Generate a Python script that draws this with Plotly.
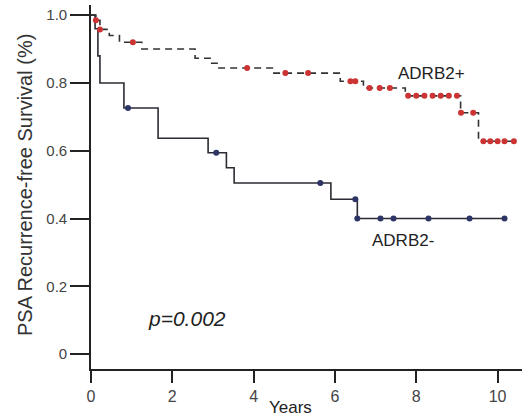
import plotly.graph_objects as go

# ---- data ----
# ADRB2+ step curve
pos_t = [0, 0.12, 0.22, 0.45, 0.7, 1.25, 2.56, 2.93, 3.1, 4.46, 6.13, 6.7, 7.73, 9.09, 9.53, 10.45]
pos_s = [1.0, 0.985, 0.958, 0.94, 0.92, 0.90, 0.873, 0.858, 0.844, 0.829, 0.805, 0.785, 0.762, 0.712, 0.628, 0.628]
# ADRB2+ censored marks
pos_ct = [0.12, 0.22, 1.03, 3.84, 4.78, 5.34, 6.38, 6.5, 6.85, 7.1, 7.35,
          7.8, 8.0, 8.2, 8.4, 8.6, 8.8, 9.0, 9.1, 9.4, 9.65, 9.82, 10.0, 10.17, 10.4]

# ADRB2- step curve
neg_t = [0, 0.1, 0.17, 0.22, 0.81, 1.65, 2.88, 3.33, 3.52, 5.9, 6.55, 10.17]
neg_s = [1.0, 0.96, 0.88, 0.80, 0.726, 0.637, 0.594, 0.55, 0.505, 0.457, 0.40, 0.40]
# ADRB2- censored marks
neg_ct = [0.91, 3.08, 5.64, 6.5, 6.55, 7.12, 7.44, 8.3, 9.31, 10.17]

y_ticks = [0, 0.2, 0.4, 0.6, 0.8, 1.0]
y_ticktext = ["0", "0.2", "0.4", "0.6", "0.8", "1.0"]
x_ticks = [0, 2, 4, 6, 8, 10]


def step_value(ts, ss, t):
    v = ss[0]
    for ti, si in zip(ts, ss):
        if ti <= t:
            v = si
    return v


pos_cs = [step_value(pos_t, pos_s, t) for t in pos_ct]
neg_cs = [step_value(neg_t, neg_s, t) for t in neg_ct]

FONT = "Liberation Sans, Arial"

fig = go.Figure()
fig.add_trace(go.Scatter(x=neg_t, y=neg_s, mode="lines", line_shape="hv",
                         line=dict(color="#2b2b33", width=1.6), showlegend=False))
fig.add_trace(go.Scatter(x=neg_ct, y=neg_cs, mode="markers",
                         marker=dict(color="#2e3566", size=6), showlegend=False))
fig.add_trace(go.Scatter(x=pos_t, y=pos_s, mode="lines", line_shape="hv",
                         line=dict(color="#333333", width=1.6, dash="7px,5px"), showlegend=False))
fig.add_trace(go.Scatter(x=pos_ct, y=pos_cs, mode="markers",
                         marker=dict(color="#cc3333", size=6), showlegend=False))

fig.add_annotation(x=8.37, y=0.829, text="ADRB2+", showarrow=False,
                   font=dict(family=FONT, size=17, color="#222222"))
fig.add_annotation(x=7.68, y=0.336, text="ADRB2-", showarrow=False,
                   font=dict(family=FONT, size=17, color="#222222"))
fig.add_annotation(x=2.36, y=0.106, text="<i>p=0.002</i>", showarrow=False,
                   font=dict(family=FONT, size=21, color="#222222"))
fig.add_annotation(xref="paper", yref="paper", x=(290 - 91) / 431, y=-49 / 364,
                   text="Years", showarrow=False, yanchor="bottom",
                   borderpad=0,
                   font=dict(family=FONT, size=17, color="#222222"))
fig.add_annotation(xref="paper", yref="paper", x=(25 - 91) / 431, y=(369 - 185) / 364,
                   text="PSA Recurrence-free Survival (%)", showarrow=False,
                   textangle=-90, xanchor="center", yanchor="middle",
                   font=dict(family=FONT, size=20, color="#333333"))

fig.update_layout(
    width=522, height=418,
    margin=dict(l=91, r=0, t=5, b=49),
    paper_bgcolor="white", plot_bgcolor="white",
    font=dict(family=FONT, size=13, color="#444444"),
    xaxis=dict(range=[0, 10.6], tickvals=x_ticks, ticks="outside", ticklen=12,
               tickwidth=1.5, tickcolor="#222222", showline=True, linecolor="#222222",
               linewidth=1.6, showgrid=False, zeroline=False,
               tickfont=dict(size=16, color="#444444")),
    yaxis=dict(range=[-0.044, 1.03], tickvals=y_ticks, ticktext=y_ticktext,
               ticks="outside", ticklen=19, tickwidth=1.5, tickcolor="#222222",
               showline=True, linecolor="#222222", linewidth=1.6,
               showgrid=False, zeroline=False,
               tickfont=dict(size=15, color="#444444")),
)

fig.write_html("out.html")
